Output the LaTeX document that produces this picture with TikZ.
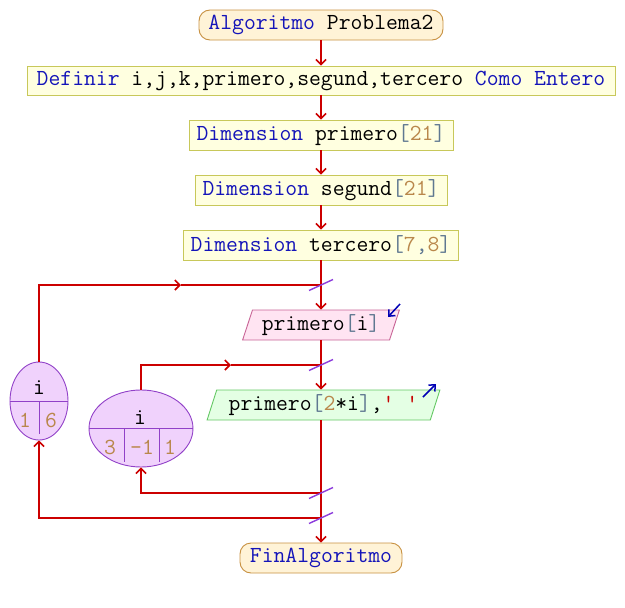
\documentclass[tikz,border=0pt]{standalone}
\usepackage{fontspec}
\usetikzlibrary{arrows.meta,shapes.geometric}

\definecolor{flowred}{RGB}{204,0,0}
\definecolor{kwblue}{RGB}{20,20,185}
\definecolor{numbrown}{RGB}{185,135,75}
\definecolor{brkgray}{RGB}{95,120,145}
\definecolor{strred}{RGB}{200,0,0}
\definecolor{termfill}{RGB}{255,243,215}
\definecolor{termdraw}{RGB}{200,145,65}
\definecolor{procfill}{RGB}{255,255,224}
\definecolor{procdraw}{RGB}{200,200,90}
\definecolor{infill}{RGB}{255,228,242}
\definecolor{indraw}{RGB}{200,100,150}
\definecolor{outfill}{RGB}{228,255,228}
\definecolor{outdraw}{RGB}{100,200,100}
\definecolor{ellfill}{RGB}{240,210,252}
\definecolor{elldraw}{RGB}{145,65,200}
\definecolor{slashcol}{RGB}{140,60,220}
\definecolor{ioarrow}{RGB}{0,0,180}

\newcommand\kwd[1]{\textcolor{kwblue}{#1}}
\newcommand\numc[1]{\textcolor{numbrown}{#1}}
\newcommand\brc[1]{\textcolor{brkgray}{#1}}

\tikzset{
  every node/.style={font=\ttfamily\fontsize{23}{27}\selectfont, text=black, inner sep=0pt},
  termbox/.style={draw=termdraw, fill=termfill, line width=0.9pt, rounded corners=11pt, minimum height=30pt},
  procbox/.style={draw=procdraw, fill=procfill, line width=0.9pt, minimum height=30pt},
  inbox/.style={shape=trapezium, trapezium left angle=68, trapezium right angle=112,
    trapezium stretches=true, draw=indraw, fill=infill, line width=0.9pt, minimum height=30pt},
  outbox/.style={shape=trapezium, trapezium left angle=68, trapezium right angle=112,
    trapezium stretches=true, draw=outdraw, fill=outfill, line width=0.9pt, minimum height=30pt},
  loopell/.style={shape=ellipse, draw=elldraw, fill=ellfill, line width=0.9pt},
  ellline/.style={draw=elldraw, line width=0.9pt},
  flow/.style={draw=flowred, line width=1.6pt, -{Straight Barb[length=5pt,width=10pt]}},
  plain/.style={draw=flowred, line width=1.6pt},
  slash/.style={draw=slashcol, line width=1.4pt},
  ioarr/.style={draw=ioarrow, line width=1.5pt, -{Straight Barb[length=5pt,width=9pt]}},
  numtext/.style={text=numbrown}
}

\begin{document}
\begin{tikzpicture}[x=1pt,y=-1pt]
\useasboundingbox (0,0) rectangle (625,608);

% statement boxes
\node[termbox, minimum width=244pt] (start) at (321,25) {\kwd{Algoritmo} Problema2};
\node[procbox, minimum width=588pt, minimum height=29pt] (def) at (321,80.5)
  {\kwd{Definir} i,j,k,primero,segund,tercero \kwd{Como} \kwd{Entero}};
\node[procbox, minimum width=264pt] (dim1) at (321,135) {\kwd{Dimension} primero\brc{[}\numc{21}\brc{]}};
\node[procbox, minimum width=252pt] (dim2) at (321,190) {\kwd{Dimension} segund\brc{[}\numc{21}\brc{]}};
\node[procbox, minimum width=275pt] (dim3) at (321,245) {\kwd{Dimension} tercero\brc{[}\numc{7}\brc{,}\numc{8}\brc{]}};
\node[inbox, minimum width=157pt] (in) at (321,325) {primero\brc{[}i\brc{]}};
\node[outbox, minimum width=233pt] (out) at (323.5,405)
  {primero\brc{[}\numc{2}*i\brc{]},\textcolor{strred}{' '}};
\node[termbox, minimum width=162pt] (fin) at (321,558) {\kwd{FinAlgoritmo}};

% loop ellipses
\node[loopell, minimum width=58pt, minimum height=78pt] (l1) at (39,401) {};
\draw[ellline] (l1.west) -- (l1.east);
\draw[ellline] (l1.center) -- (39,434);
\node (l1var) at (39,388) {i};
\node[numtext] (l1a) at (25,420) {1};
\node[numtext] (l1b) at (51,420) {6};

\node[loopell, minimum width=104pt, minimum height=77pt] (l2) at (141,428.5) {};
\draw[ellline] (l2.west) -- (l2.east);
\draw[ellline] (124,428.5) -- (124,462);
\draw[ellline] (159,428.5) -- (159,462);
\node (l2var) at (140,418) {i};
\node[numtext] (l2a) at (110,447) {3};
\node[numtext] (l2b) at (142,447) {-1};
\node[numtext] (l2c) at (170,447) {1};

% junction points on the main line
\coordinate (j1) at (321,285);
\coordinate (j2) at (321,365);
\coordinate (j3) at (321,493);
\coordinate (j4) at (321,518);
\coordinate (m1) at (181,285);
\coordinate (m2) at (231,365);

% main flow
\draw[flow] (start) -- (def);
\draw[flow] (def) -- (dim1);
\draw[flow] (dim1) -- (dim2);
\draw[flow] (dim2) -- (dim3);
\draw[flow] (dim3) -- (in);
\draw[flow] (in.south) -- (in.south |- out.north);
\draw[flow] (fin.north |- out.south) -- (fin.north);

% outer loop
\draw[flow] (j4) -| (l1.south);
\draw[flow] (l1.north) |- (m1);
\draw[plain] (m1) -- (j1);

% inner loop
\draw[flow] (j3) -| (l2.south);
\draw[flow] (l2.north) |- (m2);
\draw[plain] (m2) -- (j2);

% loop marks
\foreach \j in {j1,j2,j3,j4}
  \draw[slash] (\j) ++(-12,5.5) -- ++(24,-11);

% read / write markers
\coordinate (inA) at (400,304);
\coordinate (inB) at (388,317);
\draw[ioarr] (inA) -- (inB);
\coordinate (outA) at (423,397);
\coordinate (outB) at (436,384);
\draw[ioarr] (outA) -- (outB);
\end{tikzpicture}
\end{document}
